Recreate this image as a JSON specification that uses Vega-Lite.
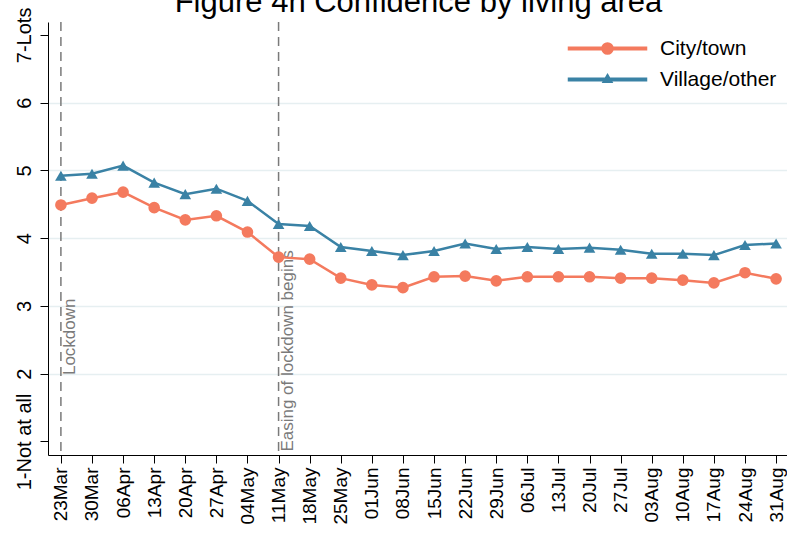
{
  "$schema": "https://vega.github.io/schema/vega-lite/v6.json",
  "autosize": {"type": "none"},
  "width": 741,
  "height": 433,
  "padding": {"left": 48, "top": 22, "right": 0, "bottom": 79},
  "background": "white",
  "title": {"text": "Figure 4n Confidence by living area", "fontSize": 31, "font": "Liberation Sans", "fontWeight": "normal", "color": "black", "anchor": "middle", "offset": -12},
  "config": {
    "font": "Liberation Sans",
    "view": {"stroke": null}
  },
  "datasets": {
    "series": [
      {"date": "23Mar", "area": "City/town", "value": 4.49},
      {"date": "30Mar", "area": "City/town", "value": 4.59},
      {"date": "06Apr", "area": "City/town", "value": 4.68},
      {"date": "13Apr", "area": "City/town", "value": 4.45},
      {"date": "20Apr", "area": "City/town", "value": 4.27},
      {"date": "27Apr", "area": "City/town", "value": 4.33},
      {"date": "04May", "area": "City/town", "value": 4.09},
      {"date": "11May", "area": "City/town", "value": 3.72},
      {"date": "18May", "area": "City/town", "value": 3.69},
      {"date": "25May", "area": "City/town", "value": 3.41},
      {"date": "01Jun", "area": "City/town", "value": 3.31},
      {"date": "08Jun", "area": "City/town", "value": 3.27},
      {"date": "15Jun", "area": "City/town", "value": 3.43},
      {"date": "22Jun", "area": "City/town", "value": 3.44},
      {"date": "29Jun", "area": "City/town", "value": 3.37},
      {"date": "06Jul", "area": "City/town", "value": 3.43},
      {"date": "13Jul", "area": "City/town", "value": 3.43},
      {"date": "20Jul", "area": "City/town", "value": 3.43},
      {"date": "27Jul", "area": "City/town", "value": 3.41},
      {"date": "03Aug", "area": "City/town", "value": 3.41},
      {"date": "10Aug", "area": "City/town", "value": 3.38},
      {"date": "17Aug", "area": "City/town", "value": 3.34},
      {"date": "24Aug", "area": "City/town", "value": 3.49},
      {"date": "31Aug", "area": "City/town", "value": 3.40},
      {"date": "23Mar", "area": "Village/other", "value": 4.92},
      {"date": "30Mar", "area": "Village/other", "value": 4.95},
      {"date": "06Apr", "area": "Village/other", "value": 5.07},
      {"date": "13Apr", "area": "Village/other", "value": 4.82},
      {"date": "20Apr", "area": "Village/other", "value": 4.65},
      {"date": "27Apr", "area": "Village/other", "value": 4.73},
      {"date": "04May", "area": "Village/other", "value": 4.55},
      {"date": "11May", "area": "Village/other", "value": 4.21},
      {"date": "18May", "area": "Village/other", "value": 4.18},
      {"date": "25May", "area": "Village/other", "value": 3.87},
      {"date": "01Jun", "area": "Village/other", "value": 3.81},
      {"date": "08Jun", "area": "Village/other", "value": 3.75},
      {"date": "15Jun", "area": "Village/other", "value": 3.81},
      {"date": "22Jun", "area": "Village/other", "value": 3.92},
      {"date": "29Jun", "area": "Village/other", "value": 3.84},
      {"date": "06Jul", "area": "Village/other", "value": 3.87},
      {"date": "13Jul", "area": "Village/other", "value": 3.84},
      {"date": "20Jul", "area": "Village/other", "value": 3.86},
      {"date": "27Jul", "area": "Village/other", "value": 3.83},
      {"date": "03Aug", "area": "Village/other", "value": 3.77},
      {"date": "10Aug", "area": "Village/other", "value": 3.77},
      {"date": "17Aug", "area": "Village/other", "value": 3.75},
      {"date": "24Aug", "area": "Village/other", "value": 3.90},
      {"date": "31Aug", "area": "Village/other", "value": 3.92}
    ],
    "events": [
      {"date": "23Mar", "label": "Lockdown", "ty": 1.98},
      {"date": "11May", "label": "Easing of lockdown begins", "ty": 0.85}
    ]
  },
  "encoding": {
    "x": {
      "field": "date", "type": "ordinal",
      "scale": {"type": "point", "padding": 0.415, "domain": ["23Mar","30Mar","06Apr","13Apr","20Apr","27Apr","04May","11May","18May","25May","01Jun","08Jun","15Jun","22Jun","29Jun","06Jul","13Jul","20Jul","27Jul","03Aug","10Aug","17Aug","24Aug","31Aug"]},
      "axis": {"title": null, "labelAngle": -90, "labelFontSize": 19, "labelColor": "black", "labelPadding": 4, "tickSize": 8, "tickColor": "black", "domainColor": "black", "tickWidth": 1, "domainWidth": 1, "grid": false, "labelFont": "Liberation Sans"}
    }
  },
  "layer": [
    {
      "data": {"name": "events"},
      "mark": {"type": "rule", "color": "#7a7a7a", "strokeDash": [9, 6], "strokeWidth": 1.5},
      "encoding": {}
    },
    {
      "data": {"name": "events"},
      "mark": {"type": "text", "angle": 270, "align": "left", "baseline": "top", "dy": 1, "fontSize": 17, "color": "#7a7a7a", "font": "Liberation Sans"},
      "encoding": {
        "y": {"field": "ty", "type": "quantitative"},
        "text": {"field": "label"}
      }
    },
    {
      "data": {"name": "series"},
      "mark": {"type": "line", "strokeWidth": 2.5},
      "encoding": {
        "y": {
          "field": "value", "type": "quantitative",
          "scale": {"domain": [0.8, 7.19], "nice": false, "zero": false},
          "axis": {"title": null, "values": [1,2,3,4,5,6,7], "labelExpr": "datum.value == 1 ? '1-Not at all' : datum.value == 7 ? '7-Lots' : toString(datum.value)", "labelAngle": -90, "labelFontSize": 20, "labelColor": "black", "labelPadding": 6, "tickSize": 8, "tickColor": "black", "domainColor": "black", "grid": true, "gridColor": "#e6eff1", "gridWidth": 1.5, "gridOpacity": {"condition": {"test": "datum.value == 1 || datum.value == 7", "value": 0}, "value": 1}, "labelFont": "Liberation Sans"}
        },
        "color": {
          "field": "area", "type": "nominal",
          "scale": {"domain": ["City/town", "Village/other"], "range": ["#f47a5e", "#3a82a5"]},
          "legend": {
            "title": null, "orient": "none", "legendX": 549, "legendY": 16, "padding": 0,
            "labelFontSize": 21, "labelColor": "black", "labelFont": "Liberation Sans",
            "symbolSize": 144, "labelOffset": 42, "rowPadding": 9, "symbolOpacity": 1
          }
        }
      }
    },
    {
      "data": {"name": "series"},
      "transform": [{"filter": "datum.area === 'City/town'"}],
      "mark": {"type": "point", "filled": true, "opacity": 1, "size": 135, "shape": "circle"},
      "encoding": {
        "y": {"field": "value", "type": "quantitative"},
        "color": {"field": "area", "type": "nominal"}
      }
    },
    {
      "data": {"name": "series"},
      "transform": [{"filter": "datum.area === 'Village/other'"}],
      "mark": {"type": "point", "filled": true, "opacity": 1, "size": 135, "shape": "triangle-up"},
      "encoding": {
        "y": {"field": "value", "type": "quantitative"},
        "color": {"field": "area", "type": "nominal"}
      }
    },
    {
      "data": {"name": "series"},
      "transform": [{"filter": "false"}],
      "mark": {"type": "point", "filled": true, "opacity": 1},
      "encoding": {
        "y": {"field": "value", "type": "quantitative"},
        "color": {"field": "area", "type": "nominal"},
        "shape": {
          "field": "area", "type": "nominal",
          "scale": {"domain": ["City/town", "Village/other"], "range": ["M-6.5,-0.2H6.5V0.2H-6.5ZM0.92,0A0.92,0.92 0 1,1 -0.92,0A0.92,0.92 0 1,1 0.92,0Z", "M-6.5,-0.2H6.5V0.2H-6.5ZM0,-0.85L0.75,0.45L-0.75,0.45Z"]},
          "legend": {
            "title": null, "orient": "none", "legendX": 549, "legendY": 16, "padding": 0,
            "labelFontSize": 21, "labelColor": "black", "labelFont": "Liberation Sans",
            "symbolSize": 144, "labelOffset": 42, "rowPadding": 9, "symbolOpacity": 1
          }
        }
      }
    }
  ]
}
